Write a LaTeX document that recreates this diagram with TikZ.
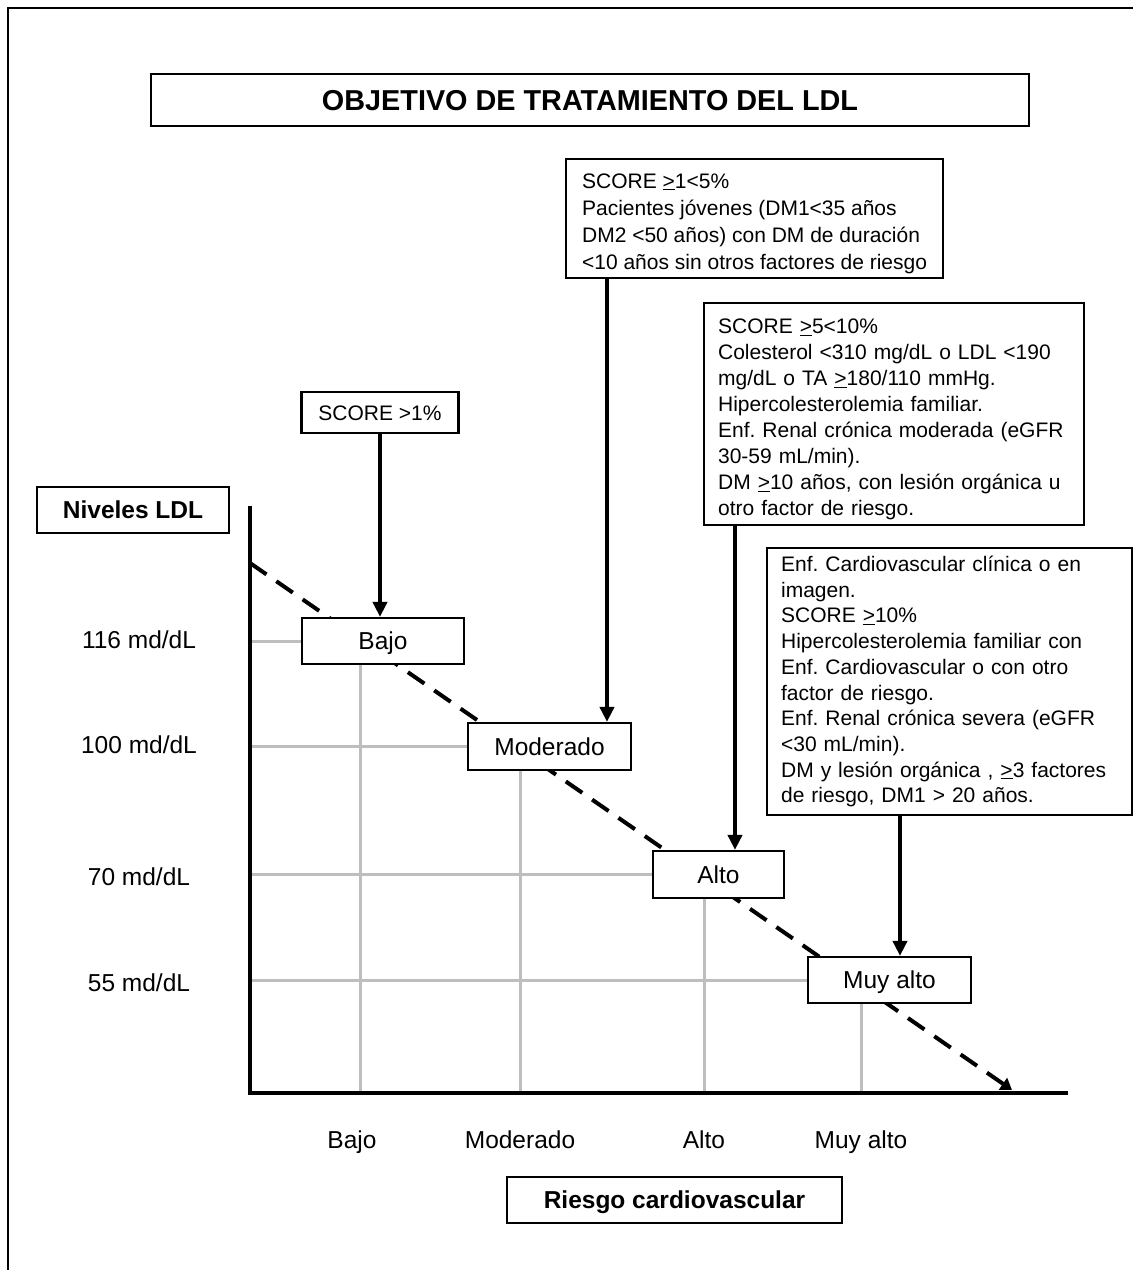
\documentclass[tikz,border=0pt]{standalone}
\usepackage{fontspec}
\setmainfont{Liberation Sans}
\usetikzlibrary{arrows.meta,calc}
\frenchspacing

\tikzset{
  box/.style={draw=black, line width=2.2pt, fill=white, inner sep=0pt},
  capcentre/.style={text height=17.5pt, text depth=0pt},
  label/.style={font=\fontsize{24.5}{28}\selectfont, inner sep=0pt, capcentre},
  boldlabel/.style={box, capcentre, font=\bfseries\fontsize{24.5}{28}\selectfont},
  riskbox/.style={box, capcentre, font=\fontsize{24.5}{28}\selectfont},
  notebox/.style={box, anchor=north west, align=left, inner xsep=13pt,
    font=\fontsize{21}{25.7}\selectfont},
  axisline/.style={line width=4pt, line join=miter},
  guide/.style={line width=3pt, draw={rgb,255:red,190;green,190;blue,190}},
  trend/.style={line width=4pt, dash pattern=on 20pt off 12pt,
    -{Triangle[length=11pt,width=14pt]}},
  pointer/.style={line width=4pt, -{Triangle[length=15pt,width=14pt]}},
}

\begin{document}
\begin{tikzpicture}[x=1pt,y=-1pt]
  \path[use as bounding box] (0,0) rectangle (1133,1270);
  \clip (0,0) rectangle (1133,1270);

  % page frame
  \draw[line width=1.6pt] (8,8) rectangle (1150,1300);

  % axes
  \coordinate (ytop) at (250,506);
  \coordinate (orig) at (250,1093);
  \coordinate (xend) at (1068,1093);

  % trend line (under the boxes)
  \coordinate (tstart) at (250,563);
  \coordinate (tend) at (1012,1090);
  \draw[trend] (tstart) -- (tend);

  % title
  \node[box, minimum width=878pt, minimum height=52pt, text height=20.5pt, text depth=0pt,
        font=\bfseries\fontsize{28.8}{32}\selectfont] (title) at (590,100)
        {OBJETIVO DE TRATAMIENTO DEL LDL};

  % axis titles
  \node[boldlabel, minimum width=192pt, minimum height=46pt] (niv) at (133,510) {Niveles LDL};
  \node[boldlabel, minimum width=335pt, minimum height=46pt] (riesgo) at (674.5,1200) {Riesgo cardiovascular};

  % target level labels
  \node[label] (l116) at (139,640) {116 md/dL};
  \node[label] (l100) at (139,745) {100 md/dL};
  \node[label] (l70)  at (139,877) {70 md/dL};
  \node[label] (l55)  at (139,983) {55 md/dL};

  % risk category labels
  \node[label] (cBajo) at (352,1140) {Bajo};
  \node[label] (cMod)  at (520,1140) {Moderado};
  \node[label] (cAlto) at (704,1140) {Alto};
  \node[label] (cMuy)  at (861,1140) {Muy alto};

  % risk boxes on the trend line
  \node[riskbox, minimum width=162pt, minimum height=46pt] (bajo) at (383,641) {Bajo};
  \node[riskbox, minimum width=163pt, minimum height=47pt] (mod)  at (549.5,746.5) {Moderado};
  \node[riskbox, minimum width=131pt, minimum height=47pt] (alto) at (718.5,874.5) {Alto};
  \node[riskbox, minimum width=163pt, minimum height=46pt] (muy)  at (889.5,980) {Muy alto};

  % guide lines to the axes
  \foreach \b in {bajo,mod,alto,muy}
    \draw[guide] (orig |- \b.west) -- (\b.west);
  \coordinate (gBajo) at (360,0);
  \draw[guide] (gBajo |- bajo.south) -- (gBajo |- orig);
  \draw[guide] (cMod |- mod.south) -- (cMod |- orig);
  \draw[guide] (cAlto |- alto.south) -- (cAlto |- orig);
  \draw[guide] (cMuy |- muy.south) -- (cMuy |- orig);

  % axes on top of the guides
  \draw[axisline] (ytop) -- (orig) -- (xend);

  % criteria boxes
  \node[box, capcentre, minimum width=157pt, minimum height=41pt,
        font=\fontsize{21}{25.6}\selectfont, text height=15pt] (s1) at (380,412.5) {SCORE >1\%};

  \node[notebox, minimum width=377pt, minimum height=119pt, font=\fontsize{21}{27}\selectfont] (s2) at (565,158)
    {\rule{0pt}{24.4pt}SCORE \underline{>}1<5\%\\
     Pacientes jóvenes (DM1<35 años\\
     DM2 <50 años) con DM de duración\\
     <10 años sin otros factores de riesgo};

  \node[notebox, inner xsep=14pt, text width=352pt, minimum height=222pt,
        font=\fontsize{21}{26}\selectfont] (s3) at (703,302)
    {\rule{0pt}{25.6pt}SCORE \underline{>}5<10\%\\
     Colesterol <310 mg/dL o LDL <190\\
     mg/dL o TA \underline{>}180/110 mmHg.\\
     Hipercolesterolemia familiar.\\
     Enf. Renal crónica moderada (eGFR\\
     30-59 mL/min).\\
     DM \underline{>}10 años, con lesión orgánica u\\
     otro factor de riesgo.};

  \node[notebox, inner xsep=14pt, text width=337pt, minimum height=267pt] (s4) at (766,547)
    {Enf. Cardiovascular clínica o en\\
     imagen.\\
     SCORE \underline{>}10\%\\
     Hipercolesterolemia familiar con\\
     Enf. Cardiovascular o con otro\\
     factor de riesgo.\\
     Enf. Renal crónica severa (eGFR\\
     <30 mL/min).\\
     DM y lesión orgánica , \underline{>}3 factores\\
     de riesgo, DM1 > 20 años.};

  % pointers from criteria to risk levels
  \coordinate (p2) at ($(s2.south west)+(42,0)$);
  \coordinate (p3) at ($(s3.south west)+(32,0)$);
  \coordinate (p4) at ($(s4.south west)+(134,0)$);
  \draw[pointer] (s1.south) -- (s1.south |- bajo.north);
  \draw[pointer] (p2) -- (p2 |- mod.north);
  \draw[pointer] (p3) -- (p3 |- alto.north);
  \draw[pointer] (p4) -- (p4 |- muy.north);
\end{tikzpicture}
\end{document}
